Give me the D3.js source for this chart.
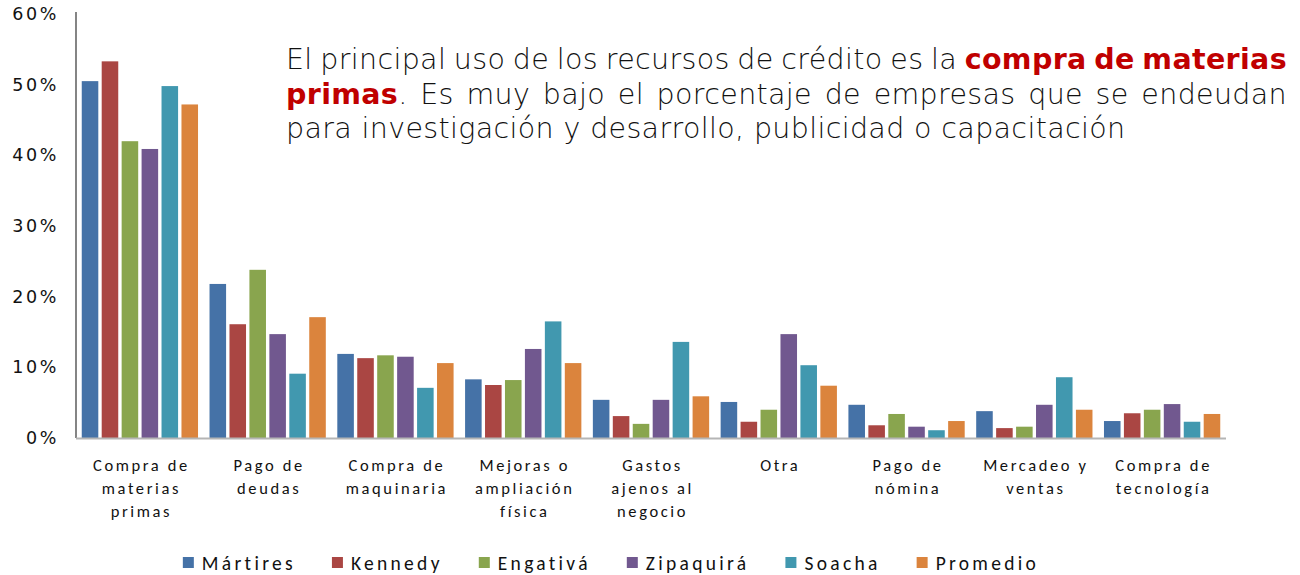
<!DOCTYPE html>
<html>
<head>
<meta charset="utf-8">
<script src="https://cdn.jsdelivr.net/npm/d3@7"></script>
<style>
  html, body { margin: 0; padding: 0; background: #fff; }
  svg { display: block; }
</style>
</head>
<body>
<div id="chart"></div>
<script>
const categories = [
  'Compra de materias primas', 'Pago de deudas', 'Compra de maquinaria',
  'Mejoras o ampliación física', 'Gastos ajenos al negocio', 'Otra',
  'Pago de nómina', 'Mercadeo y ventas', 'Compra de tecnología'
]
const categoryLines = [
  ['Compra de', 'materias', 'primas'], ['Pago de', 'deudas'], ['Compra de', 'maquinaria'],
  ['Mejoras o', 'ampliación', 'física'], ['Gastos', 'ajenos al', 'negocio'], ['Otra'],
  ['Pago de', 'nómina'], ['Mercadeo y', 'ventas'], ['Compra de', 'tecnología']
]
const seriesNames = ['Mártires', 'Kennedy', 'Engativá', 'Zipaquirá', 'Soacha', 'Promedio']
const seriesColors = ['#4572a7', '#aa4643', '#89a54e', '#71588f', '#4198af', '#db843d']

const martires  = [50.5, 21.8, 11.9, 8.3, 5.4, 5.1, 4.7, 3.8, 2.4]
const kennedy   = [53.3, 16.1, 11.3, 7.5, 3.1, 2.3, 1.8, 1.4, 3.5]
const engativa  = [42.0, 23.8, 11.7, 8.2, 2.0, 4.0, 3.4, 1.6, 4.0]
const zipaquira = [40.9, 14.7, 11.5, 12.6, 5.4, 14.7, 1.6, 4.7, 4.8]
const soacha    = [49.8, 9.1, 7.1, 16.5, 13.6, 10.3, 1.1, 8.6, 2.3]
const promedio  = [47.2, 17.1, 10.6, 10.6, 5.9, 7.4, 2.4, 4.0, 3.4]
const seriesValues = [martires, kennedy, engativa, zipaquira, soacha, promedio]

const yTicks = [0, 10, 20, 30, 40, 50, 60]

const noteLines = [
  [{t: 'El principal uso de los recursos de crédito es la '}, {t: 'compra de materias', b: true}],
  [{t: 'primas', b: true}, {t: '. Es muy bajo el porcentaje de empresas que se endeudan'}],
  [{t: 'para investigación y desarrollo, publicidad o capacitación'}]
]

const w = 1300
const h = 575
const plotLeft = 76
const plotRight = 1226
const plotTop = 14
const plotBottom = 438
const gothic = '"Century Gothic", "DejaVu Sans", sans-serif'
const calibri = 'Calibri, Carlito, Lato, "Noto Sans", sans-serif'

const svg = d3.select('#chart')
              .append('svg')
              .attr('width', w)
              .attr('height', h)

const xScale = d3.scaleBand()
                 .domain(categories)
                 .range([plotLeft, plotRight])
                 .paddingInner(0.09)
                 .paddingOuter(0.045)

const xInner = d3.scaleBand()
                 .domain(seriesNames)
                 .range([0, xScale.bandwidth()])
                 .paddingInner(0.17)

const yScale = d3.scaleLinear()
                 .domain([0, 60])
                 .range([plotBottom, plotTop])

// bars
const groups = svg.selectAll('g.group')
                  .data(categories)
                  .enter()
                  .append('g')
                  .attr('class', 'group')
                  .attr('transform', d => 'translate(' + xScale(d) + ',0)')

groups.selectAll('rect')
      .data((d, i) => seriesNames.map((s, j) => ({ s, j, v: seriesValues[j][i] })))
      .enter()
      .append('rect')
      .attr('x', d => xInner(d.s))
      .attr('y', d => yScale(d.v))
      .attr('width', xInner.bandwidth())
      .attr('height', d => plotBottom - yScale(d.v))
      .attr('fill', d => seriesColors[d.j])

// y axis
const yAxis = d3.axisLeft(yScale)
                .tickValues(yTicks)
                .tickFormat(d => d + '%')
                .tickSize(0)
                .tickPadding(17)

const yG = svg.append('g')
              .attr('transform', 'translate(' + plotLeft + ',0)')
              .call(yAxis)
yG.select('.domain').attr('d', 'M0,' + (plotTop - 2) + 'V' + plotBottom).attr('stroke', '#333').attr('stroke-width', 1.2)
yG.selectAll('text')
  .attr('font-family', gothic)
  .attr('font-size', 17.5)
  .attr('fill', '#111')
  .attr('letter-spacing', 2.6)

// baseline
svg.append('line')
   .attr('x1', plotLeft)
   .attr('x2', plotRight)
   .attr('y1', plotBottom + 0.5)
   .attr('y2', plotBottom + 0.5)
   .attr('stroke', '#b5b5b5')
   .attr('stroke-width', 2)

// category labels
const labels = svg.selectAll('text.cat')
                  .data(categories)
                  .enter()
                  .append('text')
                  .attr('class', 'cat')
                  .attr('text-anchor', 'middle')
                  .attr('font-family', calibri)
                  .attr('font-size', 16.5)
                  .attr('letter-spacing', 2.6)
                  .attr('fill', '#111')

labels.selectAll('tspan')
      .data((d, i) => categoryLines[i].map(l => ({ l, c: d })))
      .enter()
      .append('tspan')
      .attr('x', d => xScale(d.c) + xScale.bandwidth() / 2 + 1.5)
      .attr('y', (d, i) => 471 + i * 23)
      .text(d => d.l)

// legend
const legend = svg.append('g')
const items = legend.selectAll('g')
                    .data(seriesNames)
                    .enter()
                    .append('g')
items.append('rect')
     .attr('y', 557)
     .attr('width', 11)
     .attr('height', 11)
     .attr('fill', (d, i) => seriesColors[i])
items.append('text')
     .attr('x', 19)
     .attr('y', 570)
     .attr('font-family', calibri)
     .attr('font-size', 19.5)
     .attr('letter-spacing', 3.3)
     .attr('fill', '#111')
     .text(d => d)

let cursor = 0
items.each(function () {
  const tw = d3.select(this).select('text').node().getComputedTextLength()
  d3.select(this).attr('data-x', cursor)
  cursor += 19 + tw + 36
})
const legendWidth = cursor - 36
const legendStart = 611 - legendWidth / 2
items.attr('transform', function () {
  return 'translate(' + (legendStart + (+d3.select(this).attr('data-x'))) + ',0)'
})

// annotation, justified like the slide text box
const noteLeft = 286
const noteRight = 1287
const lastLineRight = 1125
const noteBase = [69, 104, 138]
const noteSize = 28.5

function tokenize(line) {
  const tokens = []
  let glued = false
  line.forEach(seg => {
    seg.t.split(' ').forEach((wd, k) => {
      if (k > 0) glued = false
      if (wd === '') return
      if (glued && tokens.length) tokens[tokens.length - 1].push({ t: wd, b: !!seg.b })
      else tokens.push([{ t: wd, b: !!seg.b }])
      glued = true
    })
    if (seg.t.endsWith(' ')) glued = false
  })
  return tokens
}

function drawTokens(tokens, y, spacing) {
  return tokens.map(tok => {
    const t = svg.append('text')
                 .attr('y', y)
                 .attr('font-family', gothic)
                 .attr('font-size', noteSize)
                 .attr('font-weight', 200)
                 .attr('letter-spacing', spacing)
                 .attr('fill', '#111')
    tok.forEach(p => {
      t.append('tspan')
       .attr('font-weight', p.b ? 'bold' : null)
       .attr('fill', p.b ? '#c00000' : null)
       .text(p.t)
    })
    return { t, width: t.node().getComputedTextLength() }
  })
}

// fit letter spacing so the last, unjustified line ends where it does on the slide
const lastText = tokenize(noteLines[2]).map(tk => tk.map(p => p.t).join('')).join(' ')
const probe = drawTokens([[{ t: lastText }]], -100, 0)
const spacing = (lastLineRight - noteLeft - probe[0].width) / lastText.length
probe[0].t.remove()

noteLines.forEach((line, li) => {
  const nodes = drawTokens(tokenize(line), noteBase[li], spacing)
  const total = d3.sum(nodes, n => n.width)
  const justify = li < noteLines.length - 1
  const spaceW = noteSize * 0.32 + spacing
  const gap = justify ? (noteRight - noteLeft - total) / (nodes.length - 1) : spaceW
  let x = noteLeft
  nodes.forEach(n => {
    n.t.attr('x', x)
    x += n.width + gap
  })
})
</script>
</body>
</html>
